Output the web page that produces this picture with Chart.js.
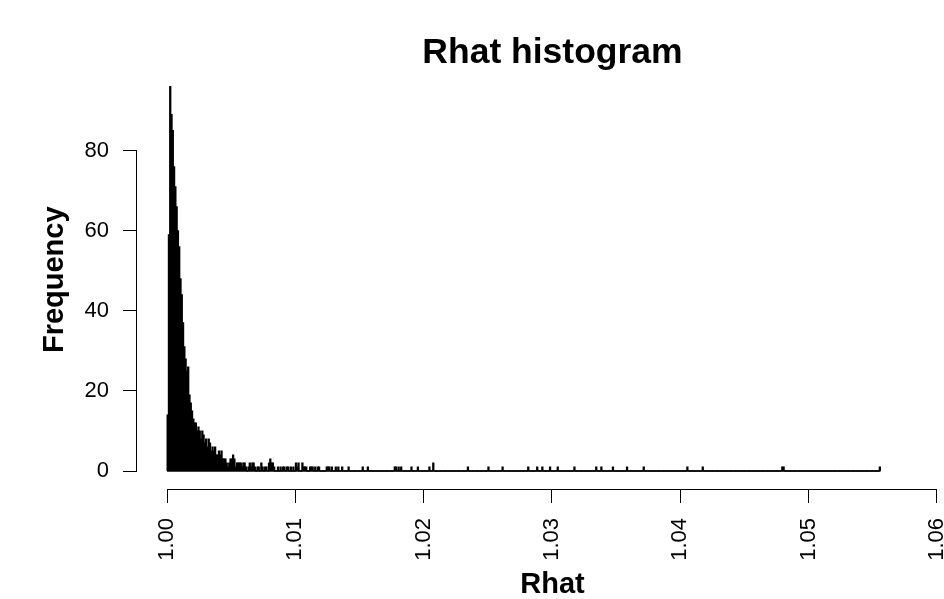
<!DOCTYPE html>
<html>
<head>
<meta charset="utf-8">
<script src="https://cdn.jsdelivr.net/npm/chart.js@4"></script>
<style>
  html, body { margin: 0; padding: 0; background: #fff; overflow: hidden; }
  #wrap { width: 1107px; height: 599px; }
</style>
</head>
<body>
<div id="wrap"><canvas id="rhatChart" width="1107" height="599"></canvas></div>
<script>
// histogram bins: width 0.0001 starting at 1.0000
const binStart = 1.0;
const binWidth = 0.0001;

// counts of the first 142 bins (1.0000 - 1.0142)
const headCounts = [
  14, 59, 96, 89, 85, 76, 71, 66, 60, 56,
  48, 44, 37, 31, 28, 25, 26, 19, 17, 15,
  13, 12, 12, 10, 11, 10, 8, 10, 9, 7,
  8, 6, 8, 7, 5, 6, 5, 6, 4, 4,
  5, 4, 5, 3, 3, 3, 2, 1, 2, 3,
  3, 4, 3, 1, 2, 2, 2, 2, 1, 2,
  2, 1, 0, 1, 2, 1, 2, 2, 1, 0,
  1, 1, 0, 2, 1, 0, 1, 1, 0, 2,
  3, 2, 2, 1, 0, 0, 1, 0, 1, 0,
  1, 1, 0, 1, 1, 0, 1, 0, 1, 0,
  2, 1, 2, 0, 0, 2, 1, 1, 1, 0,
  0, 1, 1, 1, 0, 1, 0, 1, 1, 0,
  0, 0, 0, 0, 1, 1, 1, 0, 1, 0,
  0, 1, 0, 1, 0, 0, 1, 0, 0, 0,
  0, 1
];

// sparse tail: bin index and count
const tailBins = [152, 156, 177, 178, 180, 182, 190, 195, 204, 207, 234, 250, 261, 281, 288,
  292, 298, 304, 317, 334, 338, 347, 358, 371, 405, 417, 479, 480, 555];
const tailCounts = [1, 1, 1, 1, 1, 1, 1, 1, 1, 2, 1, 1, 1, 1, 1,
  1, 1, 1, 1, 1, 1, 1, 1, 1, 1, 1, 1, 1, 1];

const xTicks = [1.00, 1.01, 1.02, 1.03, 1.04, 1.05, 1.06];
const yTicks = [0, 20, 40, 60, 80];

const nBins = tailBins[tailBins.length - 1] + 1;
const counts = new Array(nBins).fill(0);
headCounts.forEach((c, i) => { counts[i] = c; });
tailBins.forEach((b, i) => { counts[b] = tailCounts[i]; });

const barData = counts.map((c, i) => ({ x: binStart + binWidth * (i + 0.5), y: c }));
const baseLine = [{ x: binStart, y: 0 }, { x: binStart + binWidth * nBins, y: 0 }];

const fontFamily = '"Liberation Sans", Arial, Helvetica, sans-serif';

// R-style axis lines: only from first to last tick
const axisLines = {
  id: 'axisLines',
  afterDraw(chart) {
    const ctx = chart.ctx;
    const xs = chart.scales.x, ys = chart.scales.y;
    const area = chart.chartArea;
    ctx.save();
    ctx.strokeStyle = '#000';
    ctx.lineWidth = 1;
    ctx.beginPath();
    ctx.moveTo(xs.getPixelForValue(xTicks[0]), area.bottom + 0.5);
    ctx.lineTo(xs.getPixelForValue(xTicks[xTicks.length - 1]), area.bottom + 0.5);
    ctx.moveTo(area.left - 0.5, ys.getPixelForValue(yTicks[0]));
    ctx.lineTo(area.left - 0.5, ys.getPixelForValue(yTicks[yTicks.length - 1]));
    ctx.stroke();
    ctx.restore();
  }
};

const ctx = document.getElementById('rhatChart').getContext('2d');
new Chart(ctx, {
  type: 'bar',
  data: {
    datasets: [{
      type: 'bar',
      data: barData,
      backgroundColor: '#000',
      borderWidth: 0,
      inflateAmount: 0.5,
      barPercentage: 1,
      categoryPercentage: 1,
      grouped: false
    }, {
      type: 'line',
      data: baseLine,
      borderColor: '#000',
      borderWidth: 1.5,
      pointRadius: 0
    }]
  },
  options: {
    responsive: false,
    animation: false,
    layout: { padding: { top: 17, left: 0, right: 139, bottom: 0 } },
    plugins: {
      legend: { display: false },
      tooltip: { enabled: false },
      title: {
        display: true,
        fullSize: false,
        text: 'Rhat histogram',
        color: '#000',
        font: { family: fontFamily, size: 35.5, weight: 'bold', lineHeight: 1 },
        padding: { top: 18, bottom: 0 }
      }
    },
    scales: {
      x: {
        type: 'linear',
        min: 0.99766,
        max: 1.06242,
        offset: false,
        afterBuildTicks: s => { s.ticks = xTicks.map(v => ({ value: v })); },
        afterFit: s => { s.height = 110; },
        ticks: {
          autoSkip: false,
          minRotation: 90,
          maxRotation: 90,
          padding: 15,
          color: '#000',
          font: { family: fontFamily, size: 22 },
          callback: v => v.toFixed(2)
        },
        grid: { display: true, offset: false, drawOnChartArea: false, drawTicks: true, tickLength: 14, color: '#000' },
        border: { display: false },
        title: {
          display: true,
          text: 'Rhat',
          color: '#000',
          font: { family: fontFamily, size: 29, weight: 'bold', lineHeight: 1 },
          padding: { top: 0, bottom: 0 }
        }
      },
      y: {
        min: -4.486,
        max: 100,
        afterBuildTicks: s => { s.ticks = yTicks.map(v => ({ value: v })); },
        afterFit: s => { s.width = 137; },
        ticks: {
          padding: 14,
          color: '#000',
          font: { family: fontFamily, size: 22 }
        },
        grid: { display: true, drawOnChartArea: false, drawTicks: true, tickLength: 14, color: '#000' },
        border: { display: false },
        title: {
          display: true,
          text: 'Frequency',
          color: '#000',
          font: { family: fontFamily, size: 29, weight: 'bold', lineHeight: 1.2 },
          padding: { top: 38, bottom: 0 }
        }
      }
    }
  },
  plugins: [axisLines]
});
</script>
</body>
</html>
